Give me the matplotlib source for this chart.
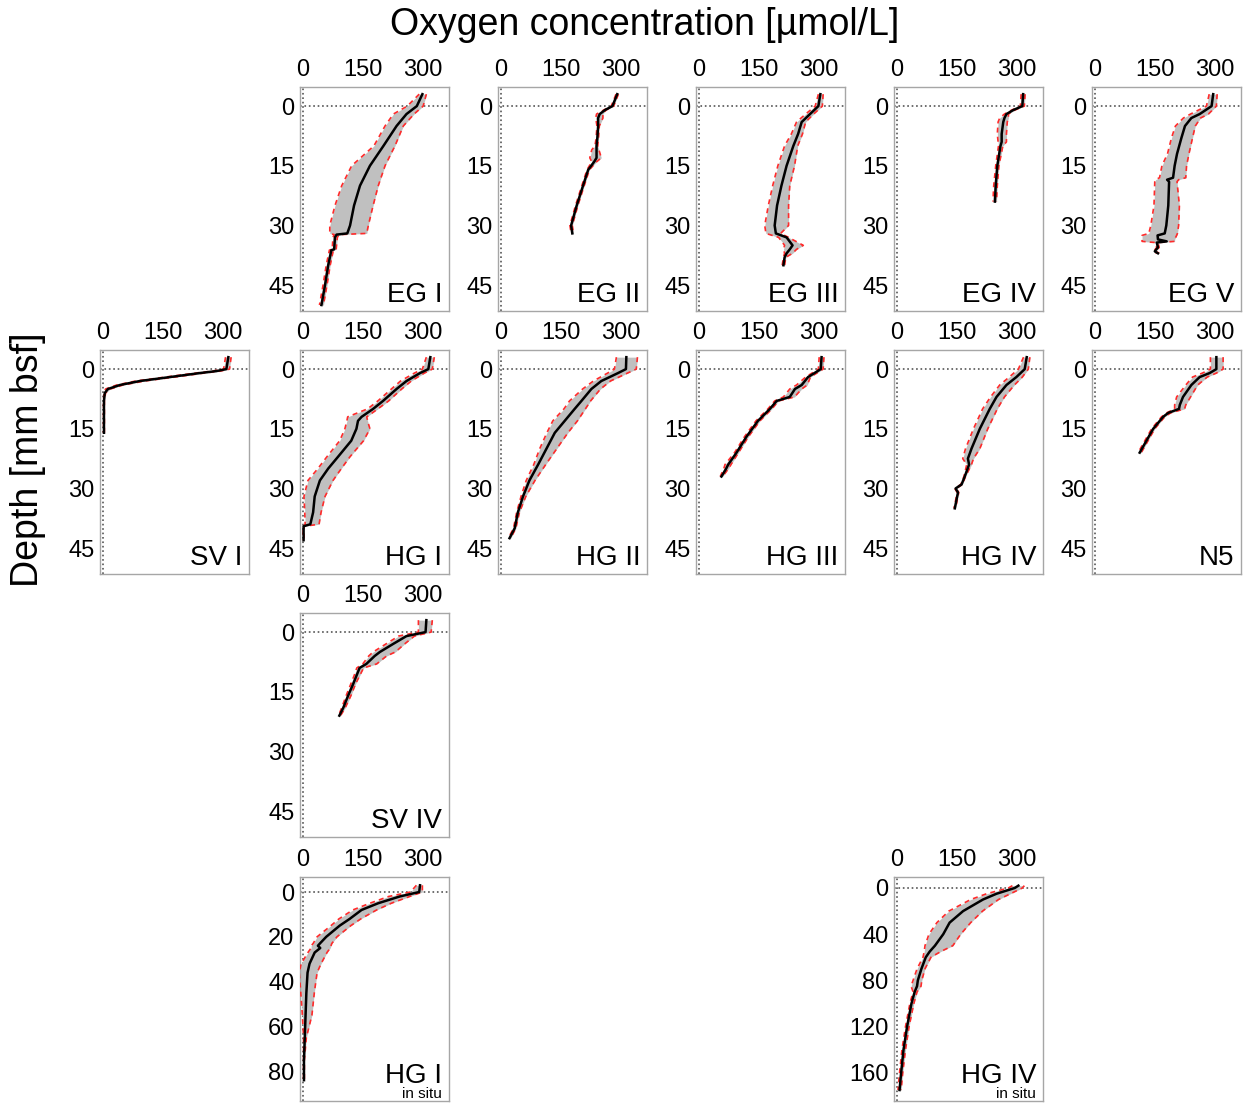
import matplotlib
matplotlib.use("Agg")
import matplotlib.pyplot as plt

plt.rcParams['font.family'] = ['Liberation Sans', 'DejaVu Sans']

# profile data: depth [mm], mean O2, lower and upper envelope [umol/L]
eg1_depth = [-3, 0, 2, 5, 10, 15, 20, 25, 30, 32, 32.3, 33, 36, 36.2, 40, 45, 50]
eg1_mean = [300, 286, 260, 235, 202, 168, 143, 128, 118, 111, 84, 80, 78, 71, 63, 55, 46]
eg1_lo = [292, 262, 227, 206, 178, 122, 97, 80, 67, 67, 78, 75, 73, 66, 58, 50, 41]
eg1_hi = [310, 302, 279, 252, 231, 206, 189, 176, 164, 160, 90, 86, 83, 76, 68, 60, 51]

eg2_depth = [-3, 0, 1, 2, 3, 5, 8, 10, 11, 13, 14, 16, 20, 25, 30, 32]
eg2_mean = [292, 280, 261, 248, 244, 244, 242, 240, 240, 240, 234, 219, 206, 190, 176, 179]
eg2_lo = [289, 277, 258, 240, 238, 241, 239, 236, 228, 223, 228, 216, 203, 187, 173, 176]
eg2_hi = [295, 283, 264, 256, 256, 247, 245, 243, 246, 252, 240, 222, 209, 193, 179, 182]

eg3_depth = [-3, 0, 2, 4, 7, 10, 15, 20, 25, 30, 32, 33, 35, 36, 37, 38, 40]
eg3_mean = [305, 300, 279, 258, 249, 237, 220, 207, 196, 190, 193, 220, 235, 228, 220, 215, 212]
eg3_lo = [300, 292, 268, 245, 232, 215, 198, 185, 174, 165, 168, 200, 215, 212, 215, 212, 209]
eg3_hi = [312, 310, 288, 268, 260, 248, 240, 228, 225, 225, 205, 225, 262, 245, 235, 218, 215]

eg4_depth = [-3, 0, 1, 2, 3, 4, 7, 9, 10, 15, 20, 24]
eg4_mean = [317, 315, 292, 275, 270, 267, 263, 263, 260, 252, 248, 246]
eg4_lo = [312, 310, 288, 270, 258, 254, 252, 254, 255, 248, 243, 241]
eg4_hi = [322, 320, 296, 280, 280, 277, 275, 275, 266, 256, 252, 250]

eg5_depth = [-3, 0, 2, 3, 5, 8, 12, 15, 18, 18.5, 19, 25, 30, 32, 32.5, 33.5, 34, 34.3, 35.5, 36.5, 37]
eg5_mean = [297, 293, 263, 242, 226, 217, 206, 200, 196, 181, 186, 184, 179, 175, 157, 158, 180, 155, 158, 150, 158]
eg5_lo = [287, 280, 240, 222, 202, 192, 182, 168, 162, 152, 150, 148, 140, 135, 118, 118, 118, 152, 155, 147, 155]
eg5_hi = [307, 305, 285, 265, 252, 245, 236, 230, 228, 210, 206, 212, 210, 207, 205, 200, 200, 158, 161, 153, 161]

sv1_depth = [-3, 0, 0.5, 1, 2, 3, 4, 5, 6, 8, 16]
sv1_mean = [315, 310, 285, 243, 168, 92, 42, 12, 4, 2, 2]
sv1_lo = [308, 303, 275, 232, 157, 82, 34, 6, 2, 1, 1]
sv1_hi = [322, 318, 295, 254, 180, 104, 50, 18, 6, 3, 3]

hg1_depth = [-3, 0, 1, 3, 5, 8, 10, 12, 13, 15, 18, 22, 25, 28, 32, 36, 39, 39.5, 43]
hg1_mean = [320, 315, 294, 260, 235, 201, 176, 147, 138, 134, 121, 88, 63, 42, 29, 25, 18, 1, 1]
hg1_lo = [310, 300, 280, 245, 222, 188, 162, 112, 110, 105, 92, 60, 37, 12, 2, 4, 5, 0, 0]
hg1_hi = [330, 325, 305, 272, 248, 215, 188, 160, 162, 168, 152, 118, 96, 75, 55, 45, 40, 2, 2]

hg2_depth = [-3, 0, 1, 3, 5, 8, 10, 13, 16, 20, 24, 28, 32, 36, 40, 42.5]
hg2_mean = [315, 314, 294, 252, 227, 202, 185, 160, 135, 114, 93, 71, 55, 42, 34, 21]
hg2_lo = [290, 285, 268, 232, 205, 172, 158, 130, 115, 97, 82, 63, 50, 39, 31, 18]
hg2_hi = [343, 340, 318, 275, 250, 225, 212, 192, 168, 140, 112, 85, 62, 46, 37, 24]

hg3_depth = [-3, 0, 2, 4, 5, 7, 8, 10, 13, 17, 21, 24, 25, 27]
hg3_mean = [308, 306, 274, 258, 241, 228, 195, 178, 148, 119, 94, 73, 68, 56]
hg3_lo = [302, 300, 268, 245, 228, 212, 190, 173, 143, 114, 89, 65, 62, 53]
hg3_hi = [314, 312, 280, 272, 258, 240, 200, 183, 153, 124, 99, 80, 74, 59]

hg4_depth = [-3, 0, 2, 4, 7, 10, 15, 20, 22.5, 24, 27, 29, 30, 31, 35]
hg4_mean = [326, 321, 300, 275, 250, 233, 208, 187, 178, 181, 170, 162, 147, 153, 145]
hg4_lo = [318, 305, 282, 258, 235, 215, 192, 172, 165, 175, 168, 160, 145, 151, 143]
hg4_hi = [334, 330, 315, 295, 270, 252, 228, 208, 192, 187, 172, 164, 149, 155, 147]

n5_depth = [-3, 0, 1, 2, 4, 7, 9, 10, 11, 12, 15, 18, 21]
n5_mean = [305, 305, 288, 263, 242, 221, 213, 211, 184, 171, 146, 129, 112]
n5_lo = [290, 290, 270, 245, 228, 205, 200, 200, 180, 167, 142, 125, 108]
n5_hi = [322, 322, 305, 282, 258, 240, 228, 225, 190, 175, 150, 133, 116]

sv4_depth = [-3, 0, 1, 3, 5, 6, 8, 9, 11, 13, 16, 19, 21]
sv4_mean = [310, 308, 260, 226, 193, 180, 159, 142, 134, 126, 113, 101, 91]
sv4_lo = [290, 290, 240, 208, 176, 165, 150, 135, 128, 120, 108, 97, 89]
sv4_hi = [325, 322, 280, 255, 232, 210, 185, 152, 142, 132, 120, 106, 94]

hg1is_depth = [-3, 0, 2, 5, 8, 12, 15, 20, 23, 24, 25, 27, 32, 36, 45, 55, 65, 75, 84]
hg1is_mean = [294, 292, 243, 189, 147, 117, 92, 58, 42, 37, 43, 29, 16, 11, 8, 6, 4, 2, 2]
hg1is_lo = [285, 270, 215, 168, 125, 90, 70, 35, 25, 20, 20, 12, -5, -10, -6, -2, 1, 1, 1]
hg1is_hi = [300, 300, 268, 222, 185, 145, 120, 85, 72, 70, 68, 60, 45, 35, 28, 22, 8, 3, 3]

hg4is_depth = [-2, 0, 5, 10, 20, 30, 40, 50, 55, 60, 70, 80, 85, 90, 100, 120, 140, 160, 175]
hg4is_mean = [305, 296, 250, 216, 166, 132, 116, 95, 82, 72, 61, 52, 50, 44, 36, 25, 16, 10, 6]
hg4is_lo = [290, 280, 225, 185, 130, 100, 80, 70, 68, 65, 50, 40, 35, 40, 32, 21, 12, 6, 2]
hg4is_hi = [320, 315, 285, 255, 215, 185, 160, 140, 110, 85, 70, 62, 60, 50, 42, 30, 21, 14, 10]

x_ticks = [0, 150, 300]
y_ticks_short = [0, 15, 30, 45]

# panels: (label, sub label, depth, mean, lo, hi, column, row, y ticks, y limits)
short = (51.5, -4.8)
panels = [
    ("EG I", None, eg1_depth, eg1_mean, eg1_lo, eg1_hi, 1, 0, y_ticks_short, short),
    ("EG II", None, eg2_depth, eg2_mean, eg2_lo, eg2_hi, 2, 0, y_ticks_short, short),
    ("EG III", None, eg3_depth, eg3_mean, eg3_lo, eg3_hi, 3, 0, y_ticks_short, short),
    ("EG IV", None, eg4_depth, eg4_mean, eg4_lo, eg4_hi, 4, 0, y_ticks_short, short),
    ("EG V", None, eg5_depth, eg5_mean, eg5_lo, eg5_hi, 5, 0, y_ticks_short, short),
    ("SV I", None, sv1_depth, sv1_mean, sv1_lo, sv1_hi, 0, 1, y_ticks_short, short),
    ("HG I", None, hg1_depth, hg1_mean, hg1_lo, hg1_hi, 1, 1, y_ticks_short, short),
    ("HG II", None, hg2_depth, hg2_mean, hg2_lo, hg2_hi, 2, 1, y_ticks_short, short),
    ("HG III", None, hg3_depth, hg3_mean, hg3_lo, hg3_hi, 3, 1, y_ticks_short, short),
    ("HG IV", None, hg4_depth, hg4_mean, hg4_lo, hg4_hi, 4, 1, y_ticks_short, short),
    ("N5", None, n5_depth, n5_mean, n5_lo, n5_hi, 5, 1, y_ticks_short, short),
    ("SV IV", None, sv4_depth, sv4_mean, sv4_lo, sv4_hi, 1, 2, y_ticks_short, short),
    ("HG I", "in situ", hg1is_depth, hg1is_mean, hg1is_lo, hg1is_hi, 1, 3, [0, 20, 40, 60, 80], (93.3, -6.7)),
    ("HG IV", "in situ", hg4is_depth, hg4is_mean, hg4is_lo, hg4is_hi, 4, 3, [0, 40, 80, 120, 160], (184.5, -9.5)),
]

W, H = 1250, 1104
col_left = [100, 300, 498, 696, 894, 1092]
row_top = [87, 350, 613, 877]
pw, ph = 149, 224

fig = plt.figure(figsize=(W / 100, H / 100), dpi=100)

for label, sub, d, m, lo, hi, c, r, yt, ylim in panels:
    ax = fig.add_axes([col_left[c] / W, 1 - (row_top[r] + ph) / H, pw / W, ph / H])
    ax.axvline(0, color='#555555', ls=':', lw=1.2, zorder=1)
    ax.axhline(0, color='#555555', ls=':', lw=1.2, zorder=1)
    ax.fill_betweenx(d, lo, hi, color='#c0c0c0', lw=0, zorder=2)
    ax.plot(lo, d, color='#ff2a2a', lw=1.2, dashes=(3, 2.5), zorder=3)
    ax.plot(hi, d, color='#ff2a2a', lw=1.2, dashes=(3, 2.5), zorder=3)
    ax.plot(m, d, color='black', lw=1.8, zorder=4)
    ax.set_xlim(-8, 367)
    ax.set_ylim(*ylim)
    ax.set_xticks(x_ticks)
    ax.set_yticks(yt)
    ax.xaxis.tick_top()
    ax.tick_params(length=0, labelsize=17, pad=4)
    for s in ax.spines.values():
        s.set_color('#a6a6a6')
        s.set_linewidth(1)
    if sub is None:
        ax.text(0.955, 0.012, label, transform=ax.transAxes, ha='right', va='bottom', fontsize=20)
    else:
        ax.text(0.955, 0.055, label, transform=ax.transAxes, ha='right', va='bottom', fontsize=20)
        ax.text(0.955, 0.0, sub, transform=ax.transAxes, ha='right', va='bottom', fontsize=11)

fig.text(645 / W, 1 - 25 / H, "Oxygen concentration [µmol/L]", ha='center', va='center', fontsize=27)
fig.text(28 / W, 1 - 460 / H, "Depth [mm bsf]", ha='center', va='center', rotation=90, fontsize=27)

fig.savefig("out.png", dpi=100)
